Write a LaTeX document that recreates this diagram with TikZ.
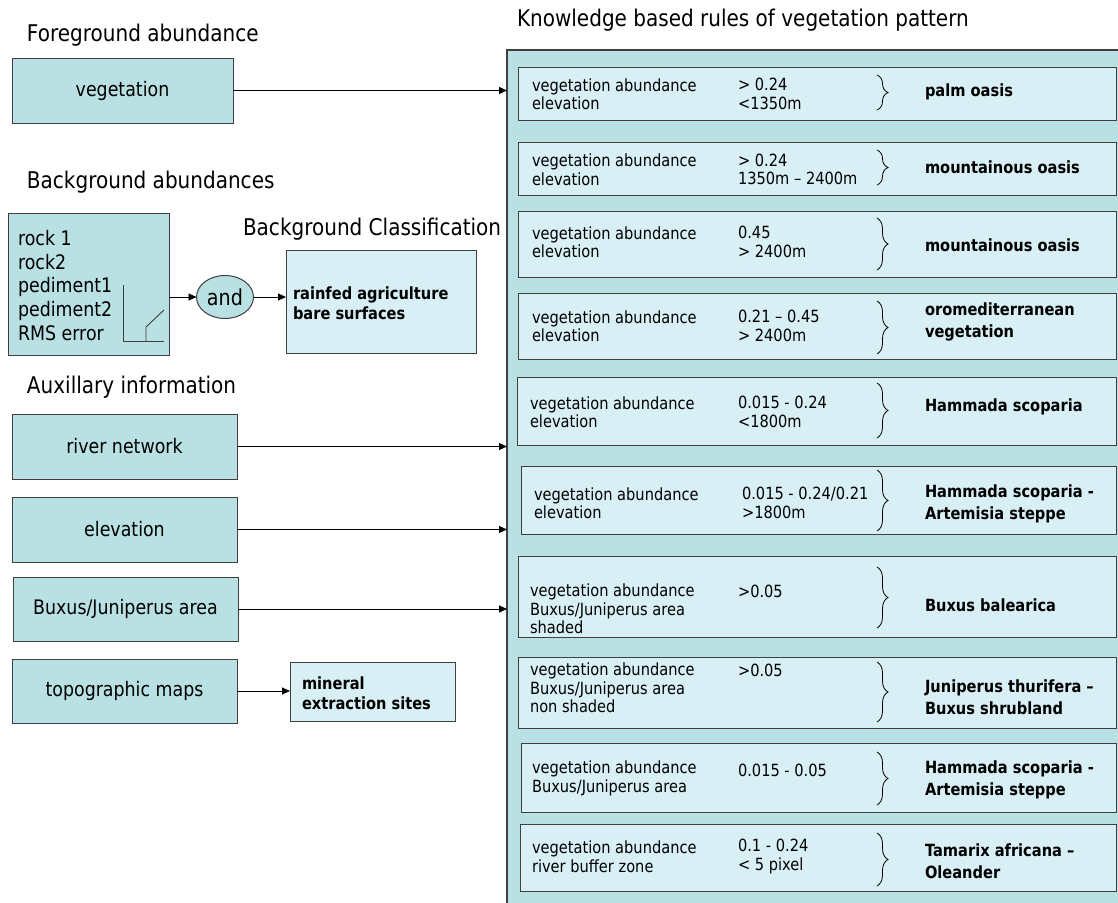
\documentclass[tikz,border=0pt]{standalone}
\usepackage{fontspec}
\setmainfont{DejaVu Sans}[FakeStretch=0.87]
\usetikzlibrary{arrows.meta,decorations.pathreplacing,shapes.geometric}

\definecolor{darkfill}{HTML}{B9E0E3}
\definecolor{lightfill}{HTML}{D7EFF5}
\definecolor{edgegray}{HTML}{3F3F3F}

\newcommand{\TitleFont}{\fontsize{23}{27}\selectfont}
\newcommand{\LabelFont}{\fontsize{20}{24}\selectfont}
\newcommand{\SmallFont}{\fontsize{16.8}{18.5}\selectfont}
\newcommand{\SmallBold}{\fontsize{16.8}{21.5}\selectfont\bfseries}

\begin{document}
\begin{tikzpicture}[x=1pt,y=-1pt,
  every node/.style={inner sep=0pt, outer sep=0pt},
  srcbox/.style={draw=edgegray, line width=1pt, fill=darkfill, anchor=north west, font=\LabelFont},
  rulebox/.style={draw=edgegray, line width=1pt, fill=lightfill, anchor=north west},
  heading/.style={anchor=base west, font=\TitleFont},
  cond/.style={anchor=west, align=left, font=\SmallFont},
  result/.style={anchor=west, align=left, font=\SmallBold},
  arr/.style={draw=black, line width=0.9pt, -{Triangle[length=8pt,width=7pt]}},
  rbrace/.style={draw=black, decorate, decoration={brace, amplitude=11pt}, line width=0.8pt}
]
\useasboundingbox (0,0) rectangle (1118,902);
\clip (0,0) rectangle (1118,902);
\fill[white] (0,0) rectangle (1118,902);

% ---------- headings ----------
\node[heading] (hfg)  at (27,41)   {Foreground abundance};
\node[heading] (hbg)  at (27,188)  {Background abundances};
\node[heading] (hcls) at (243,235) {Background Classification};
\node[heading] (haux) at (27,393)  {Auxillary information};
\node[heading] (hkb)  at (517,26)  {Knowledge based rules of vegetation pattern};

% ---------- knowledge base container ----------
\node[draw=edgegray, line width=1.2pt, fill=darkfill, anchor=north west,
      minimum width=640pt, minimum height=880pt] (kb) at (507,50) {};

% ---------- input layers ----------
\node[srcbox, minimum width=221pt, minimum height=65pt] (veg) at (12,58) {vegetation};

\node[srcbox, minimum width=161pt, minimum height=142pt] (bg) at (8,213) {};
\node[anchor=west, align=left, font=\fontsize{20}{23.8}\selectfont] (bglist) at (18,285.5)
  {rock 1\\rock2\\pediment1\\pediment2\\RMS error};
\draw[edgegray, line width=0.9pt] (123,285) -- (123,341) -- (164,341);
\draw[edgegray, line width=0.9pt] (146,341) -- (146,327) -- (164,310);

\node[draw=edgegray, line width=1pt, fill=darkfill, ellipse, minimum width=57pt,
      minimum height=43pt, font=\fontsize{22}{26}\selectfont] (and) at (225,297) {and};

\node[rulebox, minimum width=190pt, minimum height=103pt] (cls) at (286,250) {};
\node[result, font=\fontsize{16.8}{20}\selectfont\bfseries] (clstxt) at (293,303)
  {rainfed agriculture\\bare surfaces};

\node[srcbox, minimum width=225pt, minimum height=65pt] (river) at (12,414) {river network};
\node[srcbox, minimum width=225pt, minimum height=65pt] (elev)  at (12,497) {elevation};
\node[srcbox, minimum width=225pt, minimum height=64pt] (buxus) at (13,577) {Buxus/Juniperus area};
\node[srcbox, minimum width=225pt, minimum height=64pt] (topo)  at (12,659) {topographic maps};

\node[rulebox, minimum width=165pt, minimum height=59pt] (mineral) at (290,662) {};
\node[result, font=\fontsize{16.8}{20}\selectfont\bfseries] (mintxt) at (302,693)
  {mineral\\extraction sites};

% ---------- connectors ----------
\draw[arr] (veg.east) -- (veg.east -| kb.west);
\draw[arr] (and.west -| bg.east) -- (and.west);
\draw[arr] (and.east) -- (and.east -| cls.west);
\draw[arr] (river.east) -- (river.east -| kb.west);
\draw[arr] (elev.east) -- (elev.east -| kb.west);
\draw[arr] (buxus.east) -- (buxus.east -| kb.west);
\draw[arr] (topo.east) -- (topo.east -| mineral.west);

% ---------- rules ----------
% rule 1
\node[rulebox, minimum width=598pt, minimum height=53pt] (r1) at (518,67) {};
\node[cond] (r1a) at (532,94) {vegetation abundance\\elevation};
\node[cond] (r1b) at (738,94) {> 0.24\\<1350m};
\draw[rbrace] (877,75) -- (877,110);
\node[result] (r1c) at (925,92) {palm oasis};

% rule 2
\node[rulebox, minimum width=598pt, minimum height=53pt] (r2) at (518,142) {};
\node[cond] (r2a) at (532,169.5) {vegetation abundance\\elevation};
\node[cond] (r2b) at (738,169.5) {> 0.24\\1350m – 2400m};
\draw[rbrace] (877,150) -- (877,185);
\node[result] (r2c) at (925,167) {mountainous oasis};

% rule 3
\node[rulebox, minimum width=598pt, minimum height=66pt] (r3) at (518,211) {};
\node[cond] (r3a) at (532,242) {vegetation abundance\\elevation};
\node[cond] (r3b) at (738,242) {0.45\\> 2400m};
\draw[rbrace] (877,218) -- (877,270);
\node[result] (r3c) at (925,245) {mountainous oasis};

% rule 4
\node[rulebox, minimum width=598pt, minimum height=66pt] (r4) at (518,293) {};
\node[cond] (r4a) at (532,326) {vegetation abundance\\elevation};
\node[cond] (r4b) at (738,326) {0.21 – 0.45\\> 2400m};
\draw[rbrace] (877,301) -- (877,354);
\node[result] (r4c) at (925,322) {oromediterranean\\vegetation};

% rule 5
\node[rulebox, minimum width=599pt, minimum height=68pt] (r5) at (517,377) {};
\node[cond] (r5a) at (530,412) {vegetation abundance\\elevation};
\node[cond] (r5b) at (738,412) {0.015 - 0.24\\<1800m};
\draw[rbrace] (877,383) -- (877,438);
\node[result] (r5c) at (925,407) {Hammada scoparia};

% rule 6
\node[rulebox, minimum width=595pt, minimum height=68pt] (r6) at (521,466) {};
\node[cond] (r6a) at (534,503) {vegetation abundance\\elevation};
\node[cond] (r6b) at (742,503) {0.015 - 0.24/0.21\\>1800m};
\draw[rbrace] (877,470) -- (877,531);
\node[result] (r6c) at (925,504) {Hammada scoparia -\\Artemisia steppe};

% rule 7
\node[rulebox, minimum width=598pt, minimum height=81pt] (r7) at (518,556) {};
\node[cond] (r7a) at (530,609) {vegetation abundance\\Buxus/Juniperus area\\shaded};
\node[cond] (r7b) at (738,591) {>0.05};
\draw[rbrace] (877,567) -- (877,628);
\node[result] (r7c) at (925,605) {Buxus balearica};

% rule 8
\node[rulebox, minimum width=598pt, minimum height=71pt] (r8) at (518,657) {};
\node[cond] (r8a) at (530,688) {vegetation abundance\\Buxus/Juniperus area\\non shaded};
\node[cond] (r8b) at (738,670) {>0.05};
\draw[rbrace] (877,662) -- (877,722);
\node[result] (r8c) at (925,697) {Juniperus thurifera –\\Buxus shrubland};

% rule 9
\node[rulebox, minimum width=595pt, minimum height=69pt] (r9) at (521,743) {};
\node[cond] (r9a) at (532,778.5) {vegetation abundance\\Buxus/Juniperus area};
\node[cond] (r9b) at (738,770) {0.015 - 0.05};
\draw[rbrace] (877,752) -- (877,805);
\node[result] (r9c) at (925,780) {Hammada scoparia -\\Artemisia steppe};

% rule 10
\node[rulebox, minimum width=596pt, minimum height=67pt] (r10) at (520,824) {};
\node[cond] (r10a) at (532,856.5) {vegetation abundance\\river buffer zone};
\node[cond] (r10b) at (738,856.5) {0.1 - 0.24\\< 5 pixel};
\draw[rbrace] (877,833) -- (877,886);
\node[result] (r10c) at (925,861) {Tamarix africana –\\Oleander};
\end{tikzpicture}
\end{document}
